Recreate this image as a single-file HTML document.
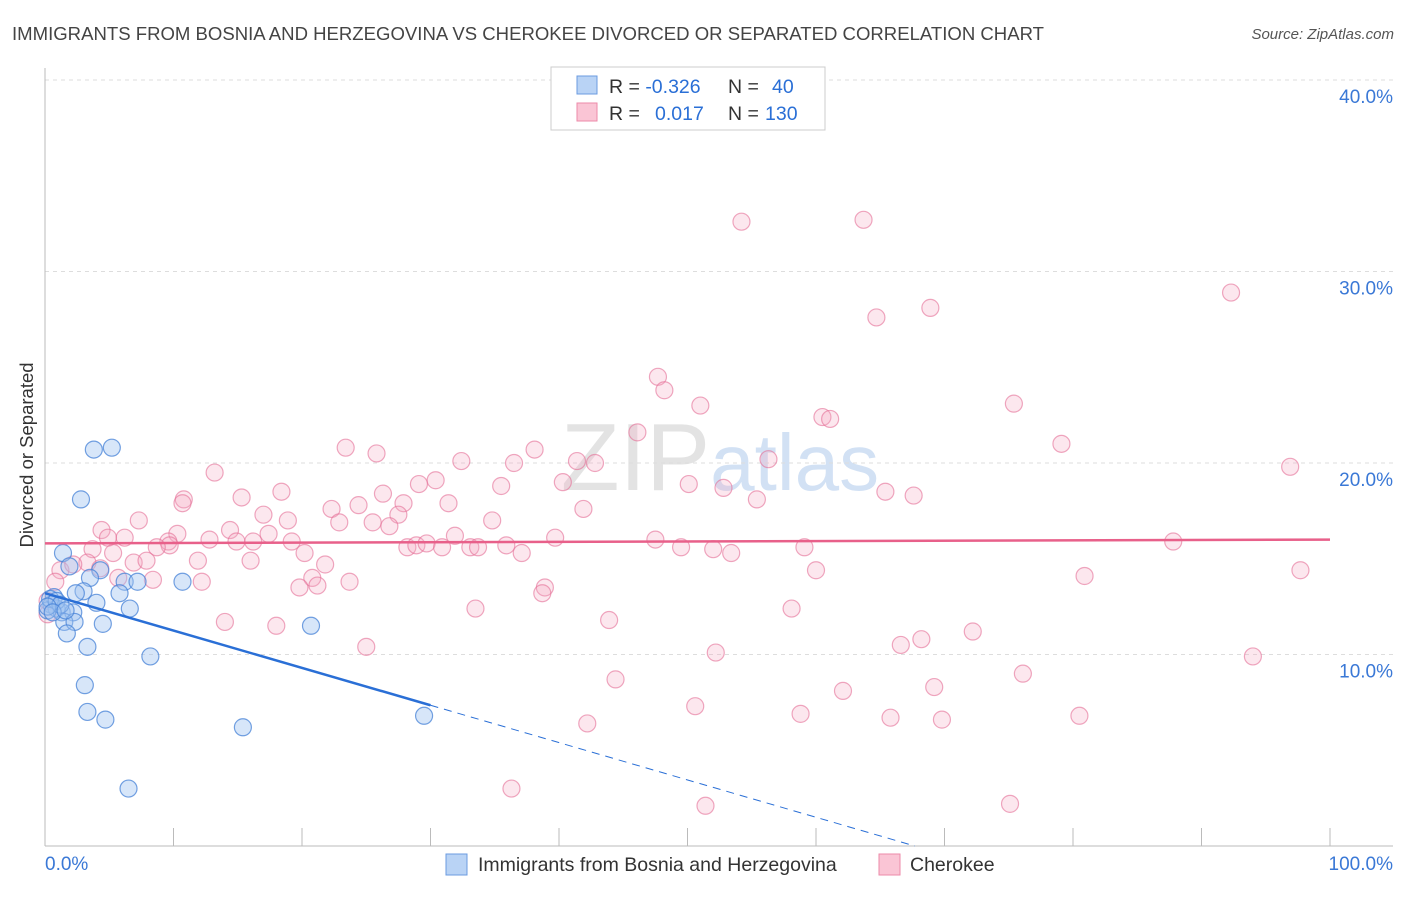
<!DOCTYPE html>
<html><head><meta charset="utf-8">
<style>
body{margin:0;background:#fff;font-family:"Liberation Sans",sans-serif;}
svg text{font-family:"Liberation Sans",sans-serif;}
</style></head>
<body>
<svg id="chart" width="1406" height="892" xmlns="http://www.w3.org/2000/svg">
<text x="12" y="40" font-size="18.6" fill="#444" textLength="1032" lengthAdjust="spacingAndGlyphs">IMMIGRANTS FROM BOSNIA AND HERZEGOVINA VS CHEROKEE DIVORCED OR SEPARATED CORRELATION CHART</text>
<text x="1394" y="39" font-size="15" fill="#555" text-anchor="end" font-style="italic">Source: ZipAtlas.com</text>
<text x="720" y="490" font-size="96" text-anchor="middle" font-family="Liberation Serif" fill="#ddd" opacity="0.8">ZIP<tspan fill="#c8daf2" font-family="Liberation Sans" font-size="80">atlas</tspan></text>
<g id="grid"></g>
<g id="axes"></g>
<g id="points"></g>
<g id="trends"></g>
<text transform="translate(33,455) rotate(-90)" font-size="18.5" fill="#333" text-anchor="middle">Divorced or Separated</text>
<g>
<rect x="551" y="67" width="274" height="63" fill="#fff" stroke="#ccc"/>
<rect x="577" y="76" width="20" height="18" fill="#b9d3f5" stroke="#6b9be0"/>
<rect x="577" y="103" width="20" height="18" fill="#fac5d5" stroke="#ec8aa9"/>
<text x="609" y="93" font-size="19.5" fill="#333">R = <tspan fill="#2a6fd6">-0.326</tspan><tspan x="728">N = </tspan><tspan fill="#2a6fd6" x="772">40</tspan></text>
<text x="609" y="120" font-size="19.5" fill="#333">R = <tspan fill="#2a6fd6" x="655">0.017</tspan><tspan x="728">N = </tspan><tspan fill="#2a6fd6" x="765">130</tspan></text>
</g>
<g>
<rect x="446" y="854" width="21" height="21" fill="#b9d3f5" stroke="#6b9be0"/>
<text x="478" y="871" font-size="19.5" fill="#333">Immigrants from Bosnia and Herzegovina</text>
<rect x="879" y="854" width="21" height="21" fill="#fac5d5" stroke="#ec8aa9"/>
<text x="910" y="871" font-size="19.5" fill="#333">Cherokee</text>
</g>
</svg>
<script>
const xTickLabels=["0.0%","100.0%"];
const yTicks=[10,20,30,40];
const yTickLabels=["10.0%","20.0%","30.0%","40.0%"];
const pinkX=[54.2,63.7,64.7,68.9,92.3,47.7,48.2,51.0,60.5,61.1,75.4,46.1,79.1,23.4,25.8,38.1,13.2,32.4,36.5,41.4,42.8,56.3,96.9,30.4,29.1,35.5,40.3,50.1,52.8,18.4,26.3,10.8,15.3,55.4,65.4,67.6,27.9,31.4,10.7,22.3,24.4,27.5,17.0,41.9,7.3,18.9,22.9,25.5,26.8,34.8,4.4,14.4,10.3,17.4,4.9,6.2,9.6,12.8,14.9,16.2,19.2,31.9,39.7,47.5,9.7,8.7,28.2,28.9,29.7,30.9,33.1,33.7,35.9,37.1,49.5,52.0,53.4,59.1,87.8,3.7,5.3,20.2,3.3,6.9,7.9,16.0,11.9,1.2,2.2,4.3,21.8,60.0,80.9,97.7,5.7,8.4,12.2,20.8,21.2,23.7,19.8,0.8,38.9,38.7,33.5,58.1,14.0,18.0,43.9,72.2,68.2,66.6,25.0,52.2,94.0,44.4,76.1,69.2,62.1,50.6,58.8,65.8,69.8,80.5,42.2,36.3,51.4,75.1,0.2,0.2];
const pinkY=[32.6,32.7,27.6,28.1,28.9,24.5,23.8,23.0,22.4,22.3,23.1,21.6,21.0,20.8,20.5,20.7,19.5,20.1,20.0,20.1,20.0,20.2,19.8,19.1,18.9,18.8,19.0,18.9,18.7,18.5,18.4,18.1,18.2,18.1,18.5,18.3,17.9,17.9,17.9,17.6,17.8,17.3,17.3,17.6,17.0,17.0,16.9,16.9,16.7,17.0,16.5,16.5,16.3,16.3,16.1,16.1,15.9,16.0,15.9,15.9,15.9,16.2,16.1,16.0,15.7,15.6,15.6,15.7,15.8,15.6,15.6,15.6,15.7,15.3,15.6,15.5,15.3,15.6,15.9,15.5,15.3,15.3,14.8,14.8,14.9,14.9,14.9,14.4,14.7,14.5,14.7,14.4,14.1,14.4,14.0,13.9,13.8,14.0,13.6,13.8,13.5,13.8,13.5,13.2,12.4,12.4,11.7,11.5,11.8,11.2,10.8,10.5,10.4,10.1,9.9,8.7,9.0,8.3,8.1,7.3,6.9,6.7,6.6,6.8,6.4,3.0,2.1,2.2,12.1,12.8];
const blueX=[3.8,5.2,2.8,1.4,1.9,4.3,3.5,6.2,7.2,10.7,3.0,2.4,5.8,4.0,6.6,0.7,0.5,0.9,1.3,2.2,1.5,2.3,4.5,1.7,20.7,3.3,8.2,3.1,3.3,4.7,15.4,29.5,6.5,0.2,0.4,0.9,1.2,0.2,0.6,1.6];
const blueY=[20.7,20.8,18.1,15.3,14.6,14.4,14.0,13.8,13.8,13.8,13.3,13.2,13.2,12.7,12.4,13.0,12.6,12.4,12.2,12.2,11.7,11.7,11.6,11.1,11.5,10.4,9.9,8.4,7.0,6.6,6.2,6.8,3.0,12.3,12.9,12.8,12.6,12.5,12.2,12.3];
const blueTrend=[13.2,-0.195];
const blueSolidEnd=30;
const pinkTrend=[15.8,0.002];

const NS="http://www.w3.org/2000/svg";
const X0=45,X1=1330,Y0=846,PY=19.15;
const sx=v=>X0+(X1-X0)*v/100;
const sy=v=>Y0-PY*v;
function mk(t,a,p){const e=document.createElementNS(NS,t);for(const k in a)e.setAttribute(k,a[k]);p.appendChild(e);return e;}
const grid=document.getElementById('grid'),axes=document.getElementById('axes'),pts=document.getElementById('points'),tr=document.getElementById('trends');
yTicks.forEach((v,i)=>{
 const l=mk('line',{x1:X0,x2:1393,y1:sy(v),y2:sy(v),stroke:'#ddd','stroke-dasharray':'4 4'},grid);
 
 
 const t=mk('text',{x:1393,y:sy(v)+23,'font-size':19,fill:'#3a78d6','text-anchor':'end'},grid);
 t.textContent=yTickLabels[i];
 
 
});
const ya=mk('line',{x1:X0,x2:X0,y1:68,y2:Y0,stroke:'#bbb'},axes);


const xa=mk('line',{x1:X0,x2:1393,y1:Y0,y2:Y0,stroke:'#bbb'},axes);


for(let v=0;v<=100;v+=10){
 const k=mk('line',{x1:sx(v),x2:sx(v),y1:828,y2:Y0,stroke:'#bbb'},axes);
 
 
}
[[0,'start',45],[100,'end',1393]].forEach((d,i)=>{
 const t=mk('text',{x:d[2],y:870,'font-size':19,fill:'#3a78d6','text-anchor':d[1]},axes);
 t.textContent=xTickLabels[i];
 
 
});
pinkX.forEach((x,i)=>{
 const c=mk('circle',{cx:sx(x),cy:sy(pinkY[i]),r:8.5,fill:'rgba(246,170,195,0.28)',stroke:'rgba(228,110,150,0.6)','stroke-width':1.2},pts);
 
 
});
blueX.forEach((x,i)=>{
 const c=mk('circle',{cx:sx(x),cy:sy(blueY[i]),r:8.5,fill:'rgba(160,195,240,0.42)',stroke:'rgba(70,130,215,0.75)','stroke-width':1.2},pts);
 
 
});
const bf=x=>blueTrend[0]+blueTrend[1]*x;
const b1=mk('line',{x1:sx(0),y1:sy(bf(0)),x2:sx(blueSolidEnd),y2:sy(bf(blueSolidEnd)),stroke:'#2a6fd6','stroke-width':2.5},tr);


const xz=-blueTrend[0]/blueTrend[1];
const b2=mk('line',{x1:sx(blueSolidEnd),y1:sy(bf(blueSolidEnd)),x2:sx(xz),y2:sy(0),stroke:'#2a6fd6','stroke-width':1,'stroke-dasharray':'8 6'},tr);


const pf=x=>pinkTrend[0]+pinkTrend[1]*x;
const p1=mk('line',{x1:sx(0),y1:sy(pf(0)),x2:sx(100),y2:sy(pf(100)),stroke:'#e8608a','stroke-width':2.5},tr);


</script>
</body></html>
